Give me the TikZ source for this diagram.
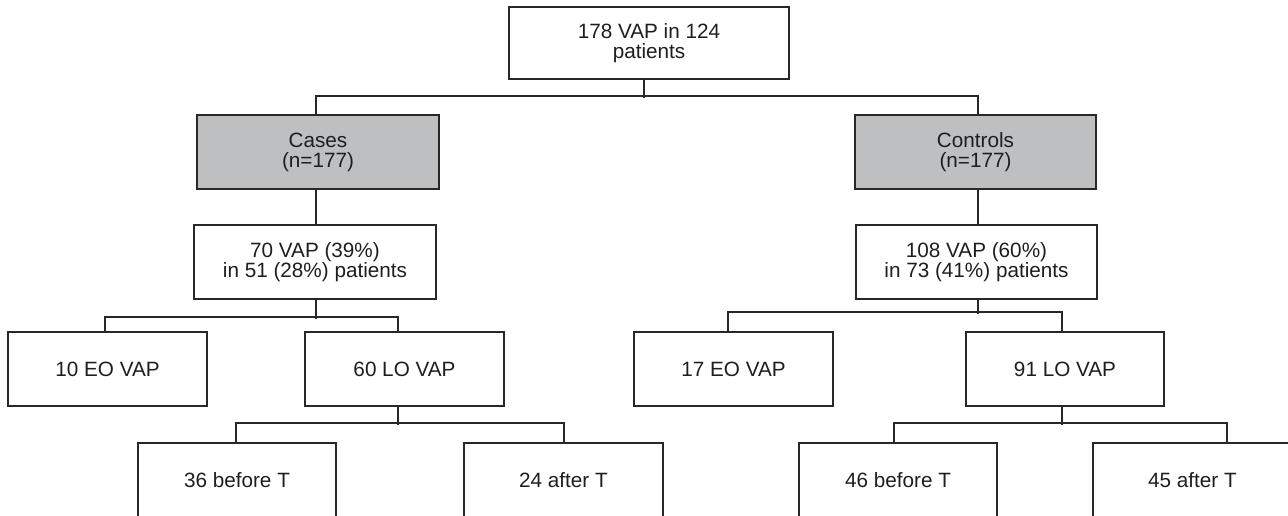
\documentclass[tikz,border=0pt]{standalone}
\usepackage{fontspec}
\setmainfont{Liberation Sans}
\definecolor{boxgray}{RGB}{190,191,193}
\definecolor{inkline}{RGB}{40,40,40}
\definecolor{inktext}{RGB}{30,30,30}
\tikzset{
  box/.style={draw=inkline, line width=1.7pt, rectangle, inner sep=0pt,
    align=center, text=inktext, minimum height=74pt,
    font=\fontsize{20.7}{20}\selectfont},
  grbox/.style={box, fill=boxgray},
  link/.style={draw=inkline, line width=1.7pt}
}
\begin{document}
\begin{tikzpicture}[x=1pt,y=-1pt]
\useasboundingbox (0,0) rectangle (1288,515);
% level 0
\node[box, minimum width=280pt, minimum height=72pt] (top) at (649,43) {178 VAP in 124\\patients};
% level 1
\node[grbox, minimum width=242pt] (cases) at (318,152) {Cases\\(n=177)};
\node[grbox, minimum width=241pt] (controls) at (975.5,152) {Controls\\(n=177)};
% level 2
\node[box, minimum width=242pt] (v70) at (315,262) {70 VAP (39\%)\\in 51 (28\%) patients};
\node[box, minimum width=241pt] (v108) at (976.5,262) {108 VAP (60\%)\\in 73 (41\%) patients};
% level 3
\node[box, minimum width=199pt] (eo10) at (107.5,369) {10 EO VAP};
\node[box, minimum width=199pt] (lo60) at (404.5,369) {60 LO VAP};
\node[box, minimum width=199pt] (eo17) at (733.5,369) {17 EO VAP};
\node[box, minimum width=198pt] (lo91) at (1065,369) {91 LO VAP};
% level 4
\node[box, minimum width=198pt] (bt36) at (237,480) {36 before T};
\node[box, minimum width=199pt] (at24) at (563.5,480) {24 after T};
\node[box, minimum width=198pt] (bt46) at (898,480) {46 before T};
\node[box, minimum width=199pt] (at45) at (1192.5,480) {45 after T};
% connectors level 0 -> 1
\draw[link] ([xshift=-5pt]top.south) -- ([xshift=-5pt,yshift=-18pt]top.south);
\draw[link] ([xshift=-2pt]cases.north) |- ([xshift=2.5pt,yshift=18pt]controls.north) -- ([xshift=2.5pt]controls.north);
% level 1 -> 2
\draw[link] ([xshift=-2pt]cases.south) -- ([xshift=-2pt]cases.south |- v70.north);
\draw[link] ([xshift=2.5pt]controls.south) -- ([xshift=2.5pt]controls.south |- v108.north);
% level 2 -> 3 (left)
\draw[link] ([xshift=1pt]v70.south) -- ([xshift=1pt,yshift=-19pt]v70.south);
\draw[link] ([xshift=-2.5pt]eo10.north) |- ([xshift=-6.5pt,yshift=14pt]lo60.north) -- ([xshift=-6.5pt]lo60.north);
% level 2 -> 3 (right)
\draw[link] ([xshift=1.5pt]v108.south) -- ([xshift=1.5pt,yshift=-14pt]v108.south);
\draw[link] ([xshift=-5.5pt]eo17.north) |- ([xshift=-3pt,yshift=19pt]lo91.north) -- ([xshift=-3pt]lo91.north);
% level 3 -> 4 (left)
\draw[link] ([xshift=-6.5pt]lo60.south) -- ([xshift=-6.5pt,yshift=-18pt]lo60.south);
\draw[link] ([xshift=-1pt]bt36.north) |- ([xshift=0.5pt,yshift=19pt]at24.north) -- ([xshift=0.5pt]at24.north);
% level 3 -> 4 (right)
\draw[link] ([xshift=-3pt]lo91.south) -- ([xshift=-3pt,yshift=-18pt]lo91.south);
\draw[link] ([xshift=-4pt]bt46.north) |- ([xshift=34.5pt,yshift=19pt]at45.north) -- ([xshift=34.5pt]at45.north);
\end{tikzpicture}
\end{document}
